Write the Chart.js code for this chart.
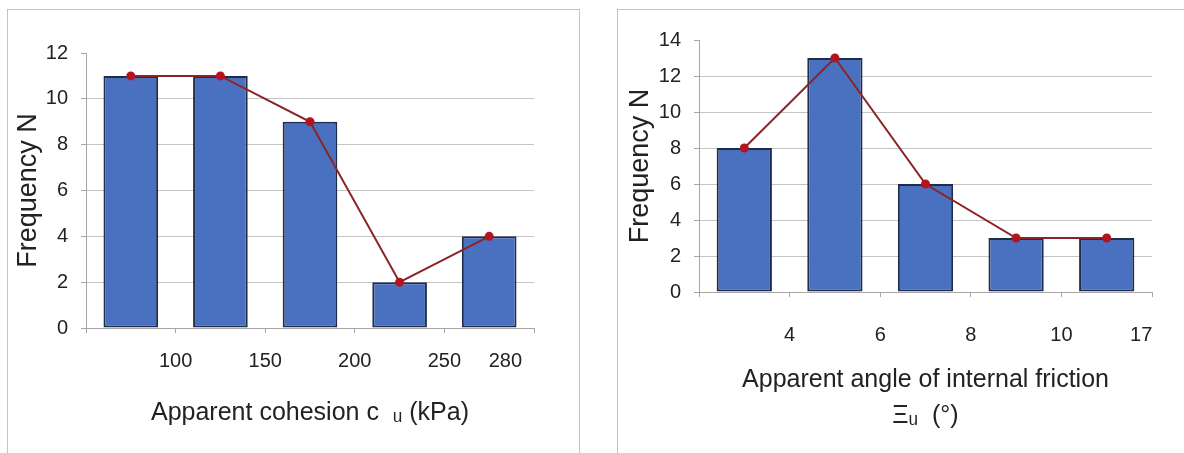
<!DOCTYPE html>
<html>
<head>
<meta charset="utf-8">
<script src="https://cdn.jsdelivr.net/npm/chart.js@4"></script>
<style>
    body { margin: 0; background: #fff; width: 1184px; height: 453px; overflow: hidden; position: relative; }
    .panel { position: absolute; border: 1px solid #c3c3c3; }
    canvas { position: absolute; top: 0; }
</style>
</head>
<body>
<div class="panel" style="left:7px; top:9px; width:571px; height:460px;"></div>
<div class="panel" style="left:617px; top:9px; width:600px; height:460px;"></div>
<canvas id="cohesionChart" width="592" height="453" style="left:0"></canvas>
<canvas id="frictionChart" width="592" height="453" style="left:592px"></canvas>
<script>
const cohesionTicks = ['100', '150', '200', '250', '280'];
const cohesionCounts = [11, 11, 9, 2, 4];
const frictionTicks = ['4', '6', '8', '10', '17'];
const frictionCounts = [8, 13, 6, 3, 3];

const textColor = '#222';
const fontFamily = '"Liberation Sans", Arial, sans-serif';

function drawChart(canvasId, counts, tickLabels, yMax, title, lay) {
    const ctx = document.getElementById(canvasId);
    const n = tickLabels.length;

    new Chart(ctx, {
        type: 'bar',
        data: {
            labels: tickLabels,
            datasets: [{
                    type: 'line',
                    data: counts,
                    borderColor: '#8b2426',
                    borderWidth: 2,
                    pointRadius: 4.5,
                    pointBackgroundColor: '#b3141d',
                    pointBorderWidth: 0,
                    order: 0
                }, {
                    data: counts,
                    backgroundColor: '#4a71bf',
                    borderColor: '#1f2c4a',
                    borderWidth: 2,
                    borderSkipped: false,
                    barPercentage: 0.61,
                    categoryPercentage: 1,
                    order: 1
                }]
        },
        options: {
            responsive: false,
            animation: false,
            layout: {
                padding: {top: lay.top, right: lay.right, left: 0, bottom: 0}
            },
            plugins: {
                legend: {display: false},
                tooltip: {enabled: false}
            },
            scales: {
                x: {
                    grid: {
                        drawOnChartArea: false,
                        tickLength: 5,
                        color: '#a6a6a6'
                    },
                    border: {color: '#a6a6a6'},
                    ticks: {display: false},
                    afterFit: function (scale) {
                        scale.height = 5;
                    }
                },
                // tick labels sit on the bin edges, so they get their own axis
                xLabels: {
                    type: 'linear',
                    position: 'bottom',
                    weight: 1,
                    offset: false,
                    min: 0,
                    max: n,
                    grid: {display: false, offset: false},
                    border: {display: false},
                    afterBuildTicks: function (scale) {
                        scale.ticks = tickLabels.map((t, i) => ({value: i < n - 1 ? i + 1 : lay.lastTickAt}));
                    },
                    ticks: {
                        autoSkip: false,
                        maxRotation: 0,
                        padding: lay.tickPad,
                        color: textColor,
                        font: {size: 20, family: fontFamily},
                        callback: (v, i) => tickLabels[i]
                    },
                    title: {
                        display: true,
                        text: title,
                        color: textColor,
                        padding: {top: 0, bottom: lay.titlePad},
                        font: {size: 25, family: fontFamily, lineHeight: lay.titleLine}
                    },
                    afterFit: function (scale) {
                        scale.height = 453 - lay.bottom - 5;
                    }
                },
                y: {
                    min: 0,
                    max: yMax,
                    grid: {
                        color: (c) => c.tick.value === yMax ? 'rgba(0,0,0,0)' : '#c4c4c4',
                        tickColor: '#a6a6a6',
                        tickLength: 5
                    },
                    border: {color: '#a6a6a6'},
                    ticks: {
                        stepSize: 2,
                        padding: 13,
                        color: textColor,
                        font: {size: 20, family: fontFamily}
                    },
                    title: {
                        display: true,
                        text: 'Frequency N',
                        color: textColor,
                        padding: {top: lay.yTitlePad, bottom: 0},
                        font: {size: 27, family: fontFamily}
                    },
                    afterFit: function (scale) {
                        scale.width = lay.left;
                    }
                }
            }
        }
    });
}

drawChart('cohesionChart', cohesionCounts, cohesionTicks, 12,
        'Apparent cohesion c  \u1D64 (kPa)',
        {top: 53, right: 58, left: 86, bottom: 328, lastTickAt: 4.68, tickPad: 8,
            titlePad: 25, titleLine: 1.2, yTitlePad: 12});

drawChart('frictionChart', frictionCounts, frictionTicks, 14,
        ['Apparent angle of internal friction', 'Ξ\u1D64  (°)'],
        {top: 40, right: 32, left: 107, bottom: 292, lastTickAt: 4.88, tickPad: 18,
            titlePad: 19, titleLine: 1.45, yTitlePad: 32});
</script>
</body>
</html>
